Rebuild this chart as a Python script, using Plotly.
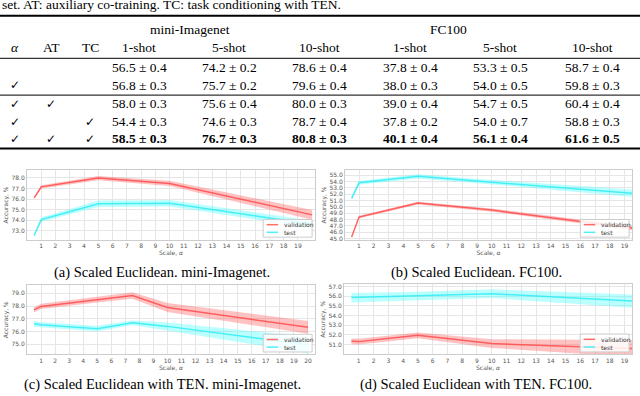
import plotly.graph_objects as go

W, H = 640, 396

# ---- table data ----
caption_top = "set. AT: auxiliary co-training. TC: task conditioning with TEN."
datasets = ["mini-Imagenet", "FC100"]
shots = ["1-shot", "5-shot", "10-shot", "1-shot", "5-shot", "10-shot"]
flag_names = ["α", "AT", "TC"]
alpha_flags = [False, True, True, True, True]
at_flags = [False, False, True, False, True]
tc_flags = [False, False, False, True, True]
table_means = [
    [56.5, 74.2, 78.6, 37.8, 53.3, 58.7],
    [56.8, 75.7, 79.6, 38.0, 54.0, 59.8],
    [58.0, 75.6, 80.0, 39.0, 54.7, 60.4],
    [54.4, 74.6, 78.7, 37.8, 54.0, 58.8],
    [58.5, 76.7, 80.8, 40.1, 56.1, 61.6],
]
table_errs = [
    [0.4, 0.2, 0.4, 0.4, 0.5, 0.4],
    [0.3, 0.2, 0.4, 0.3, 0.5, 0.3],
    [0.3, 0.4, 0.3, 0.4, 0.5, 0.4],
    [0.3, 0.3, 0.4, 0.2, 0.7, 0.3],
    [0.3, 0.3, 0.3, 0.4, 0.4, 0.5],
]

# ---- curve data (mean, std) ----
x_a = [0.5, 1, 5, 10, 20]
val_a = [76.1, 77.15, 77.98, 77.47, 74.5]
val_a_std = [0.08, 0.15, 0.2, 0.25, 0.47]
test_a = [72.55, 74.05, 75.55, 75.6, 73.6]
test_a_std = [0.1, 0.2, 0.3, 0.3, 0.35]

x_b = [0.5, 1, 5, 10, 20]
val_b = [45.25, 48.4, 50.6, 49.5, 46.5]
val_b_std = [0.1, 0.2, 0.22, 0.25, 0.35]
test_b = [51.35, 53.8, 54.82, 53.9, 52.05]
test_b_std = [0.25, 0.3, 0.33, 0.35, 0.6]

x_c = [0.5, 1, 5, 7.5, 10, 20]
val_c = [77.7, 77.97, 78.5, 78.82, 77.88, 76.33]
val_c_std = [0.2, 0.2, 0.22, 0.26, 0.35, 0.5]
test_c = [76.6, 76.52, 76.22, 76.68, 76.4, 74.95]
test_c_std = [0.23, 0.2, 0.22, 0.18, 0.3, 0.65]

x_d = [0.5, 1, 5, 10, 20]
val_d = [51.33, 51.3, 51.95, 51.1, 50.55]
val_d_std = [0.3, 0.3, 0.3, 0.45, 0.9]
test_d = [55.85, 55.87, 56.0, 56.25, 55.45]
test_d_std = [0.5, 0.45, 0.45, 0.45, 0.7]

captions = [
    "(a) Scaled Euclidean. mini-Imagenet.",
    "(b) Scaled Euclidean. FC100.",
    "(c) Scaled Euclidean with TEN. mini-Imagenet.",
    "(d) Scaled Euclidean with TEN. FC100.",
]

VAL_LINE, VAL_FILL = "rgba(255,60,60,0.75)", "rgba(255,80,80,0.35)"
TEST_LINE, TEST_FILL = "rgba(40,235,245,0.8)", "rgba(60,255,255,0.35)"
SERIF = "Liberation Serif, Times New Roman, DejaVu Sans"
SANS = "DejaVu Sans"
TABLE_SIZE = 13.5


def xp(px):
    return px / W


def yp(py):
    return 1 - py / H


fig = go.Figure()

# panel geometry in pixels: (left, right, top, bottom), x range, y range, y ticks, x ticks
panels = [
    dict(x=x_a, val=val_a, vs=val_a_std, test=test_a, ts=test_a_std,
         box=(27, 315, 170, 240), xr=[0, 20.2], yr=[72.16, 78.72],
         yt=[73, 74, 75, 76, 77, 78], xt=list(range(1, 20))),
    dict(x=x_b, val=val_b, vs=val_b_std, test=test_b, ts=test_b_std,
         box=(345, 632, 170, 240), xr=[0.05, 19.5], yr=[44.84, 55.78],
         yt=list(range(45, 56)), xt=list(range(1, 20))),
    dict(x=x_c, val=val_c, vs=val_c_std, test=test_c, ts=test_c_std,
         box=(27, 315, 286, 356), xr=[0, 20.5], yr=[74.2, 79.64],
         yt=[75, 76, 77, 78, 79], xt=list(range(1, 21))),
    dict(x=x_d, val=val_d, vs=val_d_std, test=test_d, ts=test_d_std,
         box=(344, 632, 285, 356), xr=[0, 19.5], yr=[49.98, 57.24],
         yt=[51, 52, 53, 54, 55, 56, 57], xt=list(range(1, 20))),
]

shapes = []
annotations = []

for i, p in enumerate(panels):
    n = "" if i == 0 else str(i + 1)
    xa, ya = "x" + n, "y" + n
    for mean, std, fillc, linec, name in [
        (p["val"], p["vs"], VAL_FILL, VAL_LINE, "validation"),
        (p["test"], p["ts"], TEST_FILL, TEST_LINE, "test"),
    ]:
        upper = [m + s for m, s in zip(mean, std)]
        lower = [m - s for m, s in zip(mean, std)]
        fig.add_trace(go.Scatter(
            x=p["x"] + p["x"][::-1], y=upper + lower[::-1], fill="toself",
            fillcolor=fillc, line=dict(width=0), mode="lines",
            hoverinfo="skip", showlegend=False, xaxis=xa, yaxis=ya))
        fig.add_trace(go.Scatter(
            x=p["x"], y=mean, mode="lines", name=name,
            line=dict(color=linec, width=1.5), showlegend=False,
            xaxis=xa, yaxis=ya))

    l, r, t, b = p["box"]
    axis_common = dict(showline=True, mirror=True, linecolor="#cccccc", linewidth=1,
                       gridcolor="#e6e6e6", gridwidth=1, zeroline=False, ticks="",
                       tickfont=dict(family=SANS, size=6, color="#555555"))
    fig.update_layout(**{
        "xaxis" + n: dict(domain=[xp(l), xp(r)], anchor=ya, range=p["xr"],
                          tickmode="array", tickvals=p["xt"],
                          title=dict(text="Scale, <i>α</i>", standoff=1,
                                     font=dict(family=SANS, size=6, color="#555555")),
                          **axis_common),
        "yaxis" + n: dict(domain=[yp(b), yp(t)], anchor=xa, range=p["yr"],
                          tickmode="array", tickvals=p["yt"], tickformat=".1f",
                          title=dict(text="Accuracy, %", standoff=2,
                                     font=dict(family=SANS, size=6, color="#555555")),
                          **axis_common),
    })

    # legend box in bottom-right corner
    xd, yd = xa + " domain", ya + " domain"
    shapes.append(dict(type="rect", xref=xd, yref=yd, x0=0.82, x1=0.99, y0=0.035, y1=0.29,
                       fillcolor="rgba(255,255,255,0.85)", line=dict(color="#cccccc", width=1)))
    for yy, c, label in [(0.215, VAL_LINE, "validation"), (0.105, TEST_LINE, "test")]:
        shapes.append(dict(type="line", xref=xd, yref=yd, x0=0.832, x1=0.872, y0=yy, y1=yy,
                           line=dict(color=c, width=1.5)))
        annotations.append(dict(xref=xd, yref=yd, x=0.885, y=yy, text=label, showarrow=False,
                                xanchor="left", yanchor="middle",
                                font=dict(family=SANS, size=6, color="#333333")))

# sub-figure captions
for text, cx, cy in zip(captions, [162, 476, 162, 476], [273, 273, 386, 386]):
    annotations.append(dict(xref="paper", yref="paper", x=xp(cx), y=yp(cy), text=text,
                            showarrow=False, xanchor="center", yanchor="middle",
                            font=dict(family=SERIF, size=14.5, color="black")))

# ---- table ----
col_x = [139, 229, 319, 410, 500, 592]
flag_x = [15, 51, 90]
row_y = [66, 84, 103, 121, 138]


def txt(x, y, s, size=TABLE_SIZE):
    annotations.append(dict(xref="paper", yref="paper", x=xp(x), y=yp(y), text=s,
                            showarrow=False, xanchor="center", yanchor="middle",
                            font=dict(family=SERIF, size=size, color="black")))


annotations.append(dict(xref="paper", yref="paper", x=0, y=yp(3), text=caption_top,
                        showarrow=False, xanchor="left", yanchor="middle",
                        font=dict(family=SERIF, size=TABLE_SIZE, color="black")))
txt(190, 28, datasets[0])
txt(448, 28, datasets[1])
txt(flag_x[0], 46, "<i>α</i>")
txt(flag_x[1], 46, flag_names[1])
txt(flag_x[2], 46, flag_names[2])
for cx, s in zip(col_x, shots):
    txt(cx, 46, s)

for r in range(len(table_means)):
    bold = r == len(table_means) - 1
    for fx, flags in zip(flag_x, [alpha_flags, at_flags, tc_flags]):
        if flags[r]:
            txt(fx, row_y[r], "✓", size=12)
    for cx, m, e in zip(col_x, table_means[r], table_errs[r]):
        s = f"{m:.1f} ± {e:.1f}"
        txt(cx, row_y[r], f"<b>{s}</b>" if bold else s)

for y, w, c in [(14, 2, "black"), (57, 1.2, "#333333"), (94, 1.2, "#333333"), (148, 2, "black")]:
    shapes.append(dict(type="line", xref="paper", yref="paper", x0=0, x1=1,
                       y0=yp(y), y1=yp(y), line=dict(color=c, width=w)))

fig.update_layout(
    width=W, height=H, margin=dict(l=0, r=0, t=0, b=0),
    paper_bgcolor="white", plot_bgcolor="white",
    showlegend=False, shapes=shapes, annotations=annotations,
)

# page body has a default 8px margin; drop it so the figure fills the window
fig.write_html("out.html", config={"displayModeBar": False},
               post_script="document.body.style.margin='0';")
